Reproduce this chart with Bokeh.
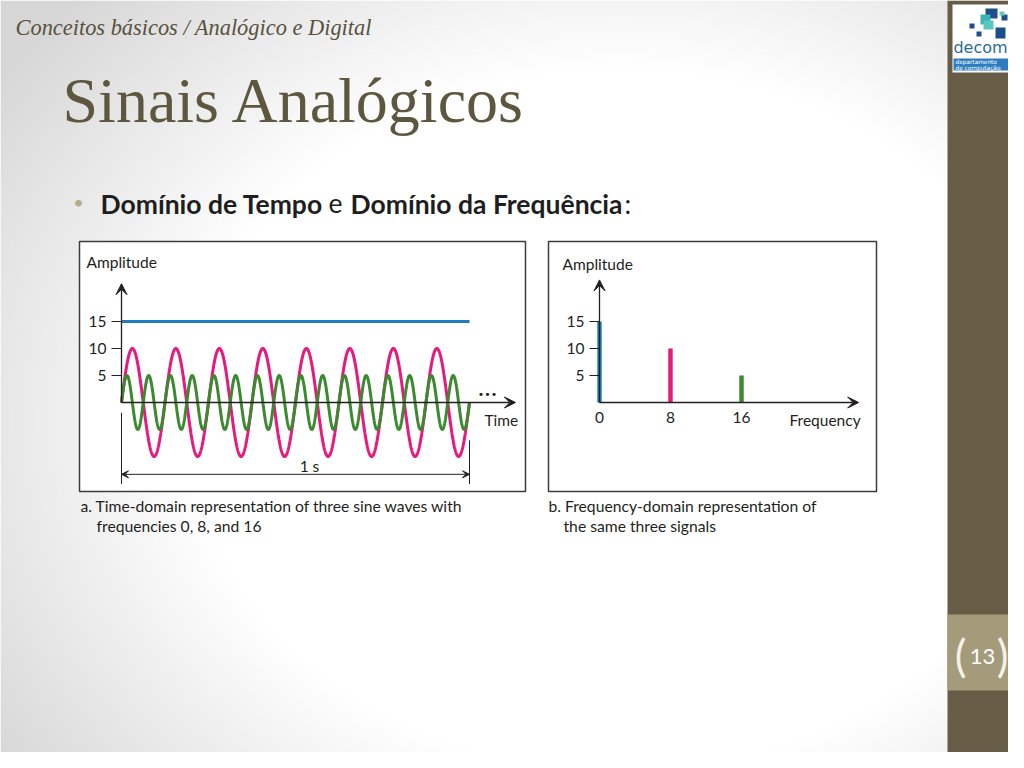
import numpy as np
from bokeh.plotting import figure
from bokeh.models import Range1d, LinearAxis, FixedTicker, Arrow, VeeHead, Label
from bokeh.embed import file_html
from bokeh.resources import INLINE

# ---------------- data ----------------
frequencies = [0, 8, 16]          # Hz
amplitudes = [15, 10, 5]
series_colors = ["#1f7cbf", "#e8187c", "#3b8a2f"]
amp_ticks = [5, 10, 15]
freq_ticks = [0, 8, 16]
duration = 1.0                    # seconds shown in the time-domain plot

# ---------------- page / layout ----------------
W, H = 1008, 752
OX, OY = 0, 0
INK = "#231f20"
FONT = "Lato"

p = figure(width=W, height=H, x_range=Range1d(OX, OX + W), y_range=Range1d(OY + H, OY),
           output_backend="svg", toolbar_location=None, min_border=0,
           x_axis_type=None, y_axis_type=None)
p.grid.visible = False
p.outline_line_color = None
p.background_fill_color = "white"
p.border_fill_color = "white"


def xr(v0, px0, s):
    return Range1d(v0 - (px0 - OX) / s, v0 + (OX + W - px0) / s)


def yr(v0, py0, s):
    return Range1d(v0 - (OY + H - py0) / s, v0 + (py0 - OY) / s)


p.extra_x_ranges = {"t": xr(0, 121, 348.0), "f": xr(0, 599, 8.875), "bgx": Range1d(0, W)}
p.extra_y_ranges = {"amp": yr(0, 402, 5.4), "bgy": Range1d(0, H)}

# background vignette
nx, ny = 336, 251
gx = np.linspace(OX, OX + W, nx)
gy = np.linspace(OY + H, OY, ny)
XX, YY = np.meshgrid(gx, gy)
r = np.sqrt(((XX - 620) / 640) ** 2 + ((YY - 420) / 520) ** 2)
v = (255 - np.clip((r - 0.68) / 0.5, 0, 1) * 40).astype(np.uint32)
img = (255 << 24) | (v << 16) | (v << 8) | v
p.image_rgba(image=[img.astype(np.uint32)], x=0, y=0, dw=W, dh=H,
             x_range_name="bgx", y_range_name="bgy")

# side bar
p.quad(left=[947], right=[OX + W], top=[OY], bottom=[OY + H], fill_color="#675c45", line_color=None)
p.quad(left=[947], right=[OX + W], top=[614], bottom=[690], fill_color="#a39b7a", line_color=None)

# logo
p.quad(left=[952], right=[OX + W], top=[4], bottom=[72], fill_color="white", line_color=None)
p.quad(left=[953], right=[OX + W], top=[58], bottom=[70], fill_color="#2c7cc1", line_color=None)
p.quad(left=[985, 980, 983, 995, 1001, 969, 976, 999],
       right=[997, 990, 993, 1005, 1007, 974, 981, 1004],
       top=[8, 14, 20, 27, 14, 23, 31, 11],
       bottom=[18, 24, 29, 38, 20, 28, 36, 15],
       fill_color=["#1d4f8c", "#3bb3b8", "#5cc6c2", "#1d4f8c", "#1d4f8c", "#1d4f8c", "#1d4f8c", "#67c8c4"],
       line_color=None)
p.add_layout(Label(x=980, y=47, text="decom", text_align="center", text_baseline="middle",
                   text_font="DejaVu Sans", text_font_size="16px", text_color="#2b6a97"))
p.add_layout(Label(x=955, y=61, text="departamento", text_baseline="middle",
                   text_font="DejaVu Sans", text_font_size="5.8px", text_color="white"))
p.add_layout(Label(x=955, y=67, text="de computação", text_baseline="middle",
                   text_font="DejaVu Sans", text_font_size="5.8px", text_color="white"))

# page number
p.add_layout(Label(x=982, y=656, text="13", text_align="center", text_baseline="middle",
                   text_font=FONT, text_font_size="22px", text_color="white"))
p.add_layout(Label(x=960, y=654, text="(", text_align="center", text_baseline="middle",
                   text_font=FONT, text_font_size="44px", text_color="#f4f1e6"))
p.add_layout(Label(x=1002, y=654, text=")", text_align="center", text_baseline="middle",
                   text_font=FONT, text_font_size="44px", text_color="#f4f1e6"))

# headings
p.add_layout(Label(x=15, y=27, text="Conceitos básicos / Analógico e Digital",
                   text_font="Liberation Serif", text_font_style="italic", text_font_size="22.4px",
                   text_color="#57523f", text_baseline="middle"))
p.add_layout(Label(x=62, y=100, text="Sinais Analógicos", text_font="Liberation Serif",
                   text_font_size="64px", text_color="#5e573f", text_baseline="middle"))
p.add_layout(Label(x=78, y=201, text="•", text_align="center", text_baseline="middle",
                   text_font=FONT, text_font_size="18px", text_color="#b2ad8d"))
hdr = dict(text_font=FONT, text_font_size="26.5px", text_color="#1e1e1e", text_baseline="middle")
p.add_layout(Label(x=100, y=203, text="Domínio de Tempo", text_font_style="bold", **hdr))
p.add_layout(Label(x=328, y=203, text="e", **hdr))
p.add_layout(Label(x=350, y=203, text="Domínio da Frequência", text_font_style="bold", **hdr))
p.add_layout(Label(x=624, y=203, text=":", **hdr))

# chart boxes
p.quad(left=[79, 548], right=[525, 876], top=[241, 241], bottom=[491, 491],
       fill_color="white", line_color="#3c3c3c", line_width=1.5)

# ---- (a) time domain ----
t = np.linspace(0, duration, 1201)
for f, a, c in zip(frequencies, amplitudes, series_colors):
    y = np.full_like(t, a) if f == 0 else a * np.sin(2 * np.pi * f * t)
    p.line(t, y, x_range_name="t", y_range_name="amp", line_color=c, line_width=3)

ya = LinearAxis(x_range_name="t", y_range_name="amp", fixed_location=0,
                ticker=FixedTicker(ticks=amp_ticks), axis_line_color=None,
                major_tick_out=10, major_tick_in=0, minor_tick_line_color=None,
                major_tick_line_color=INK, major_tick_line_width=1.2,
                major_label_text_font=FONT, major_label_text_font_size="15.5px",
                major_label_text_color=INK, major_label_standoff=5)
p.add_layout(ya, "left")

head = dict(size=11, fill_color=INK, line_color=INK)
p.add_layout(Arrow(x_start=0, y_start=0, x_end=0, y_end=22.0, x_range_name="t", y_range_name="amp",
                   end=VeeHead(**head), line_color=INK, line_width=1.3))
p.add_layout(Arrow(x_start=0, y_start=0, x_end=1.132, y_end=0, x_range_name="t", y_range_name="amp",
                   end=VeeHead(**head), line_color=INK, line_width=1.3))
small = dict(size=7, fill_color=INK, line_color=INK)
p.add_layout(Arrow(x_start=0, y_start=-13.3, x_end=duration, y_end=-13.3,
                   x_range_name="t", y_range_name="amp",
                   start=VeeHead(**small), end=VeeHead(**small), line_color=INK, line_width=1))
p.segment(x0=[0, duration], y0=[-1.9, -7.0], x1=[0, duration], y1=[-15.1, -15.1],
          x_range_name="t", y_range_name="amp", line_color=INK, line_width=1)
p.add_layout(Label(x=1.052, y=1.4, x_range_name="t", y_range_name="amp", text="•••",
                   text_align="center", text_baseline="middle", text_font="DejaVu Sans",
                   text_font_size="11px", text_color=INK))
lab = dict(text_baseline="middle", text_font=FONT, text_font_size="15.5px", text_color=INK)
p.add_layout(Label(x=86, y=261, text="Amplitude", **lab))
p.add_layout(Label(x=484, y=419, text="Time", **lab))
p.add_layout(Label(x=309, y=465, text="1 s", text_align="center", **lab))

# ---- (b) frequency domain ----
p.vbar(x=frequencies, top=amplitudes, bottom=0, width=0.5, fill_color=series_colors,
       line_color=None, x_range_name="f", y_range_name="amp")
yb = LinearAxis(x_range_name="f", y_range_name="amp", fixed_location=0,
                ticker=FixedTicker(ticks=amp_ticks), axis_line_color=None,
                major_tick_out=10, major_tick_in=0, minor_tick_line_color=None,
                major_tick_line_color=INK, major_tick_line_width=1.2,
                major_label_text_font=FONT, major_label_text_font_size="15.5px",
                major_label_text_color=INK, major_label_standoff=5)
p.add_layout(yb, "left")
xb = LinearAxis(x_range_name="f", y_range_name="amp", fixed_location=0,
                ticker=FixedTicker(ticks=freq_ticks), axis_line_color=None,
                major_tick_out=0, major_tick_in=0, minor_tick_line_color=None,
                major_label_text_font=FONT, major_label_text_font_size="15.5px",
                major_label_text_color=INK, major_label_standoff=9)
p.add_layout(xb, "below")
p.add_layout(Arrow(x_start=0, y_start=0, x_end=0, y_end=22.7, x_range_name="f", y_range_name="amp",
                   end=VeeHead(**head), line_color=INK, line_width=1.3))
p.add_layout(Arrow(x_start=0, y_start=0, x_end=29.2, y_end=0, x_range_name="f", y_range_name="amp",
                   end=VeeHead(**head), line_color=INK, line_width=1.3))
p.add_layout(Label(x=562, y=263, text="Amplitude", **lab))
p.add_layout(Label(x=789, y=419, text="Frequency", **lab))

# captions
cap = dict(text_baseline="middle", text_font=FONT, text_font_size="15.7px", text_color=INK)
p.add_layout(Label(x=80, y=505, text="a. Time-domain representation of three sine waves with", **cap))
p.add_layout(Label(x=96, y=525, text="frequencies 0, 8, and 16", **cap))
p.add_layout(Label(x=548, y=505, text="b. Frequency-domain representation of", **cap))
p.add_layout(Label(x=563, y=525, text="the same three signals", **cap))

open("out.html", "w").write(file_html(p, INLINE))
